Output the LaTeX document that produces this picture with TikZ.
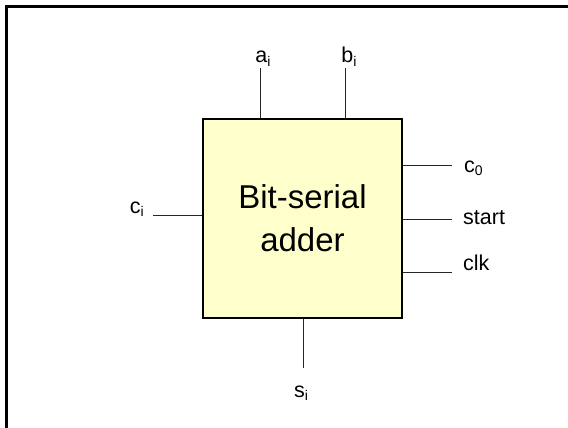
\documentclass[tikz,border=0pt]{standalone}
\usepackage{fontspec}
\setmainfont{Liberation Sans}
\usetikzlibrary{positioning}

\definecolor{boxfill}{HTML}{FFFFCC}
\newcommand{\pinsub}[1]{\raisebox{-0.3ex}{\fontsize{14}{14}\selectfont #1}}

\tikzset{
  pinlabel/.style={inner sep=0pt,font=\fontsize{21.5}{25}\selectfont},
  pinwire/.style={line width=0.9pt,black!85},
  blockbox/.style={draw,line width=1.3pt,fill=boxfill,minimum size=199pt,
    inner sep=0pt,align=center,font=\fontsize{33}{43}\selectfont}
}

\begin{document}
\begin{tikzpicture}[x=1pt,y=-1pt]
\useasboundingbox (0,0) rectangle (568,428);
% page frame (only top and left edge show)
\draw[line width=3pt] (6,428) -- (6,7) -- (568,7);

\node[blockbox] (adder) at (302.5,218.5) {Bit-serial\\adder};

% port labels
\node[pinlabel,anchor=base] (ai) at (263,63) {a\pinsub{i}};
\node[pinlabel,anchor=base] (bi) at (349,63) {b\pinsub{i}};
\node[pinlabel,anchor=base east] (ci) at (144,213) {c\pinsub{i}};
\node[pinlabel,anchor=base west] (co) at (464,172) {c\pinsub{0}};
\node[pinlabel,anchor=base west] (start) at (463,224) {start};
\node[pinlabel,anchor=base west] (clk) at (463,270) {clk};
\node[pinlabel,anchor=base] (si) at (301,397) {s\pinsub{i}};

% free ends of the wires
\coordinate (pa) at (260,68);
\coordinate (pb) at (345,68);
\coordinate (pc) at (153,215);
\coordinate (pco) at (452,165);
\coordinate (pst) at (452,219);
\coordinate (pck) at (452,272);
\coordinate (ps) at (303,368);

\draw[pinwire] (pa |- adder.north) -- (pa);
\draw[pinwire] (pb |- adder.north) -- (pb);
\draw[pinwire] (pc -| adder.west) -- (pc);
\draw[pinwire] (pco -| adder.east) -- (pco);
\draw[pinwire] (pst -| adder.east) -- (pst);
\draw[pinwire] (pck -| adder.east) -- (pck);
\draw[pinwire] (ps |- adder.south) -- (ps);
\end{tikzpicture}
\end{document}
